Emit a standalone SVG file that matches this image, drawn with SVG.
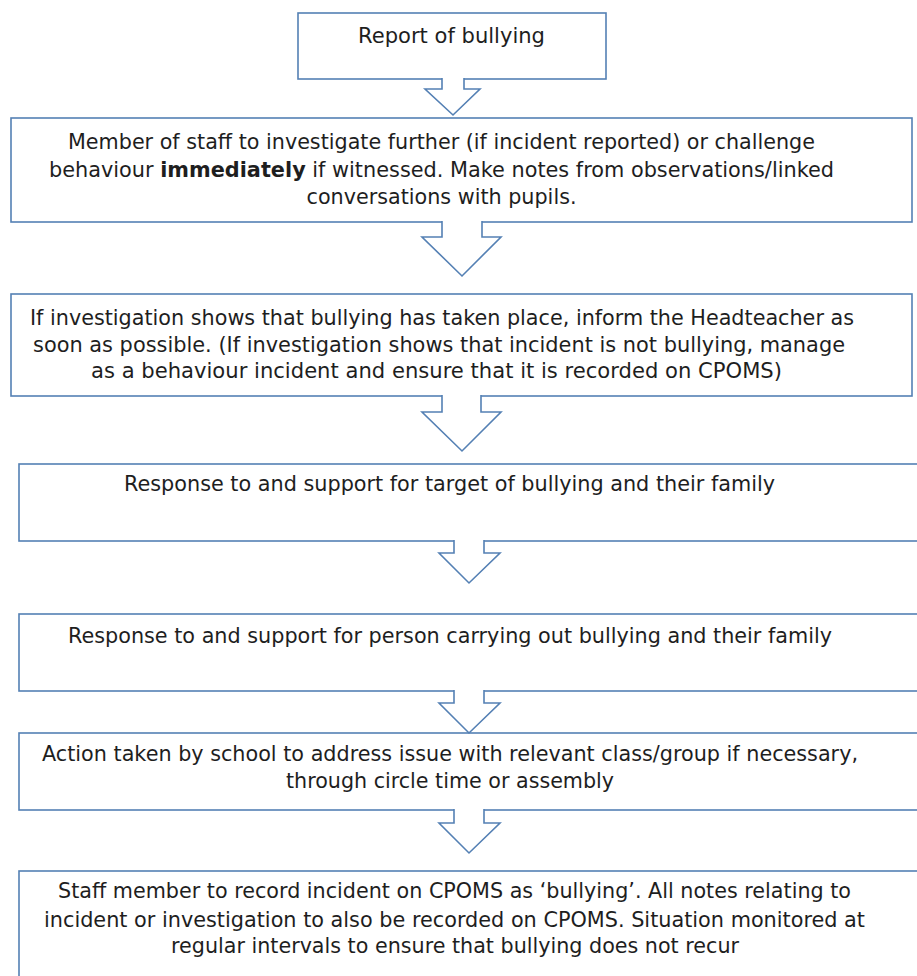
<svg xmlns="http://www.w3.org/2000/svg" width="917" height="976" viewBox="0 0 917 976">
<style>
.box{fill:#fff;stroke:#5480b4;stroke-width:1.6}
.arr{fill:#fff;stroke:#5480b4;stroke-width:1.6;stroke-linejoin:miter}
.t{font-family:"DejaVu Sans","Liberation Sans",sans-serif;font-size:22px;fill:#1e1e1e;text-anchor:middle}
.b{font-weight:bold}
</style>
<rect width="917" height="976" fill="#fff"/>
<g id="n1">
<rect class="box" x="298" y="13" width="308" height="66"/>
<text class="t" x="451.5" y="43" textLength="187" lengthAdjust="spacingAndGlyphs">Report of bullying</text>
</g>
<g id="n2">
<rect class="box" x="11" y="118" width="901" height="104"/>
<text class="t" x="441.5" y="149" textLength="747" lengthAdjust="spacingAndGlyphs">Member of staff to investigate further (if incident reported) or challenge</text>
<text class="t" x="441.5" y="177" textLength="785" lengthAdjust="spacingAndGlyphs">behaviour <tspan class="b">immediately</tspan> if witnessed. Make notes from observations/linked</text>
<text class="t" x="441.5" y="204" textLength="270" lengthAdjust="spacingAndGlyphs">conversations with pupils.</text>
</g>
<g id="n3">
<rect class="box" x="11" y="294" width="901" height="102"/>
<text class="t" x="442" y="325" textLength="824" lengthAdjust="spacingAndGlyphs">If investigation shows that bullying has taken place, inform the Headteacher as</text>
<text class="t" x="439" y="352" textLength="812" lengthAdjust="spacingAndGlyphs">soon as possible. (If investigation shows that incident is not bullying, manage</text>
<text class="t" x="436.5" y="378" textLength="691" lengthAdjust="spacingAndGlyphs">as a behaviour incident and ensure that it is recorded on CPOMS)</text>
</g>
<g id="n4">
<rect class="box" x="19" y="464" width="910" height="77"/>
<text class="t" x="449.5" y="491" textLength="651" lengthAdjust="spacingAndGlyphs">Response to and support for target of bullying and their family</text>
</g>
<g id="n5">
<rect class="box" x="19" y="614" width="910" height="77"/>
<text class="t" x="450" y="643" textLength="764" lengthAdjust="spacingAndGlyphs">Response to and support for person carrying out bullying and their family</text>
</g>
<g id="n6">
<rect class="box" x="19" y="733" width="910" height="77"/>
<text class="t" x="450" y="761" textLength="816" lengthAdjust="spacingAndGlyphs">Action taken by school to address issue with relevant class/group if necessary,</text>
<text class="t" x="450" y="788" textLength="328" lengthAdjust="spacingAndGlyphs">through circle time or assembly</text>
</g>
<g id="n7">
<rect class="box" x="19" y="871" width="910" height="130"/>
<text class="t" x="454.5" y="898" textLength="793" lengthAdjust="spacingAndGlyphs">Staff member to record incident on CPOMS as ‘bullying’. All notes relating to</text>
<text class="t" x="454.5" y="927" textLength="821" lengthAdjust="spacingAndGlyphs">incident or investigation to also be recorded on CPOMS. Situation monitored at</text>
<text class="t" x="455" y="953" textLength="568" lengthAdjust="spacingAndGlyphs">regular intervals to ensure that bullying does not recur</text>
</g>
<g id="connectors">
<path class="arr" d="M442,78 V89 H425 L453,115 L480,89 H464 V78"/>
<path class="arr" d="M442,221 V237 H422 L462,276 L501,237 H482 V221"/>
<path class="arr" d="M442,395 V412 H422 L462,451 L501,412 H481 V395"/>
<path class="arr" d="M454,540 V553 H439 L469,583 L500,553 H484 V540"/>
<path class="arr" d="M454,690 V703 H439 L469,733 L500,703 H484 V690"/>
<path class="arr" d="M454,809 V823 H439 L469,853 L500,823 H484 V809"/>
</g>
</svg>
